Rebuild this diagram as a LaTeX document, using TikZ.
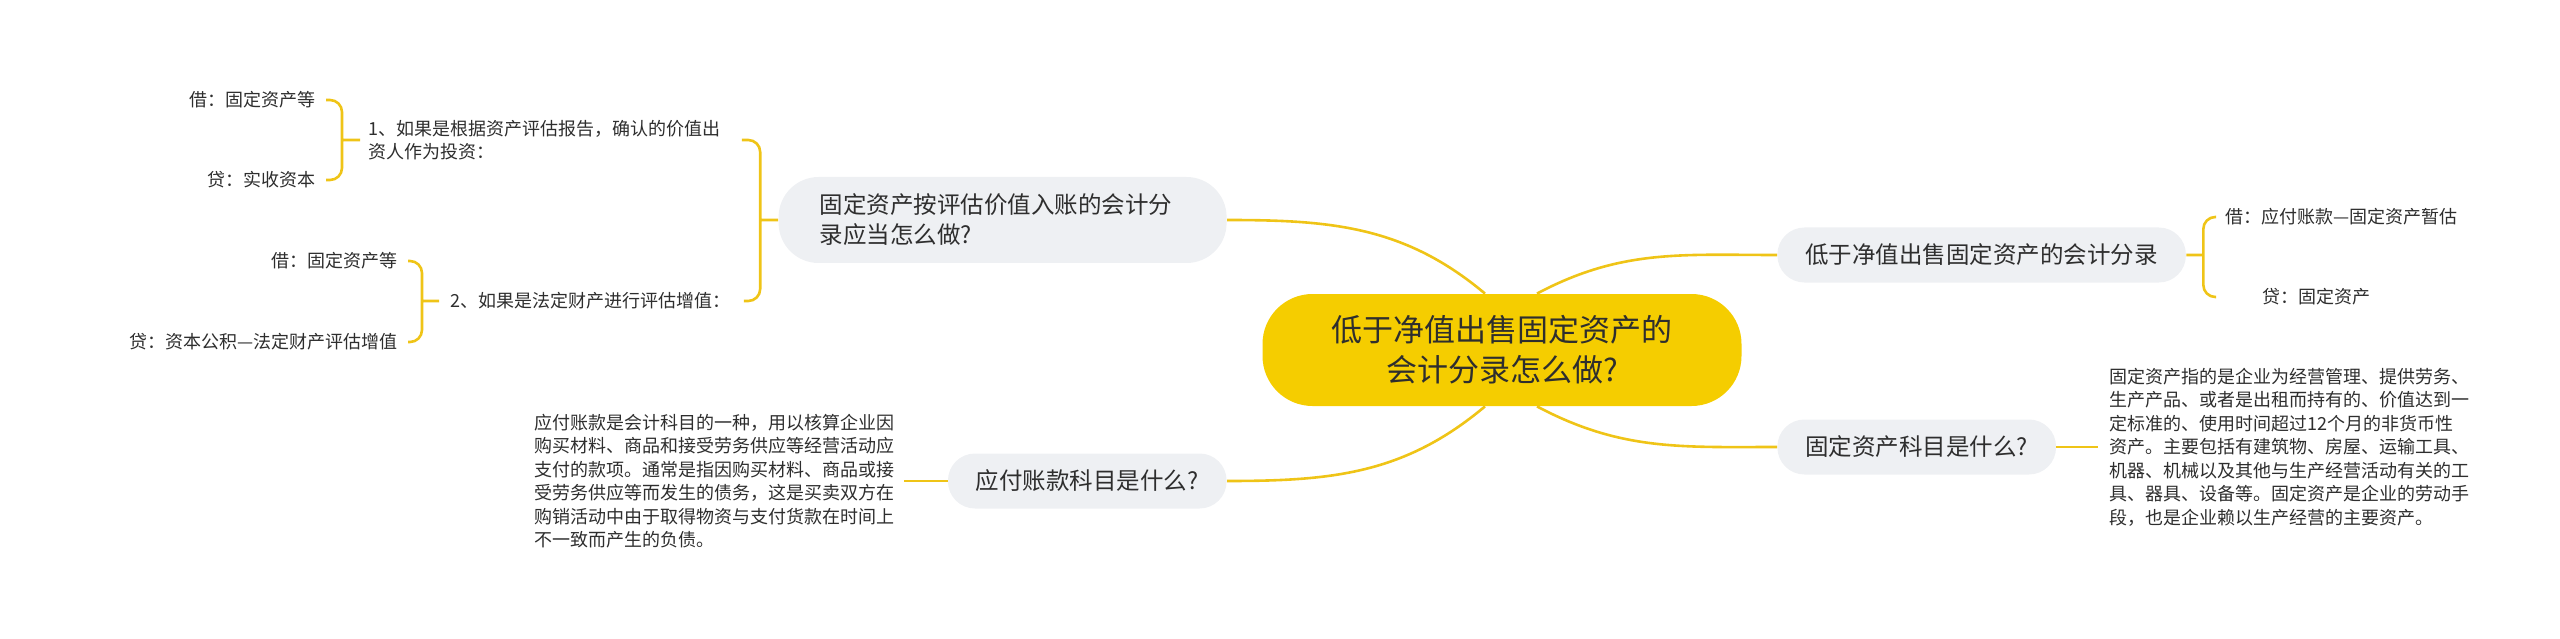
\documentclass[tikz,border=0pt]{standalone}
\usepackage{fontspec}
\usepackage{tikz}
\usetikzlibrary{positioning}
\newfontfamily\cjk{Noto Sans CJK SC}
\definecolor{rootfill}{HTML}{F5CD00}
\definecolor{topicfill}{HTML}{EEF0F3}
\definecolor{linkcolor}{HTML}{EFC417}
\definecolor{inkcolor}{HTML}{2E2E2E}

\begin{document}
\begin{tikzpicture}[x=1pt,y=-1pt,thick,
    root node/.style={rectangle,rounded corners=50pt,fill=rootfill,text=inkcolor,align=center,
      minimum width=479pt,minimum height=112pt,font=\cjk\fontsize{31}{40}\selectfont},
    topic node/.style={rectangle,rounded corners=27pt,fill=topicfill,text=inkcolor,inner xsep=28pt,
      minimum height=55pt,font=\cjk\fontsize{23.5}{30}\selectfont},
    leaf node/.style={inner xsep=10pt,inner ysep=2pt,text=inkcolor,align=left,
      font=\cjk\fontsize{18}{23.5}\selectfont},
    link/.style={draw=linkcolor,line width=2.6pt},
    brace line/.style={draw=linkcolor,line width=2.6pt,rounded corners=12pt}]
  \useasboundingbox (0,0) rectangle (2560,639);

  \node[root node] (c) at (1502,350) {低于净值出售固定资产的\\会计分录怎么做?};
  \node[topic node,rounded corners=40pt,align=left,text width=366pt,inner xsep=41pt,minimum height=86pt,
    anchor=east] (tl) at (1227,220) {固定资产按评估价值入账的会计分\\录应当怎么做?};
  \node[topic node,anchor=west] (r1) at (1777,255) {低于净值出售固定资产的会计分录};
  \node[topic node,anchor=west] (r2) at (1777,447) {固定资产科目是什么?};
  \node[topic node,anchor=east] (l2) at (1227,481) {应付账款科目是什么?};

  % left side
  \node[leaf node,anchor=west,inner xsep=8pt,text width=365pt] (s1) at (360,140)
    {1、如果是根据资产评估报告，确认的价值出\\资人作为投资：};
  \node[leaf node,anchor=west,inner xsep=11pt,text width=282pt] (s2) at (439,301)
    {2、如果是法定财产进行评估增值：};
  \node[leaf node,anchor=east] (k1) at (326,100) {借：固定资产等};
  \node[leaf node,anchor=east] (k2) at (326,180) {贷：实收资本};
  \node[leaf node,anchor=east] (k3) at (408,261) {借：固定资产等};
  \node[leaf node,anchor=east] (k4) at (408,342) {贷：资本公积—法定财产评估增值};
  \node[leaf node,anchor=east,inner xsep=9pt] (p1) at (904,481)
    {应付账款是会计科目的一种，用以核算企业因\\
     购买材料、商品和接受劳务供应等经营活动应\\
     支付的款项。通常是指因购买材料、商品或接\\
     受劳务供应等而发生的债务，这是买卖双方在\\
     购销活动中由于取得物资与支付货款在时间上\\
     不一致而产生的负债。};

  % right side
  \node[leaf node,anchor=west,inner xsep=9pt] (k5) at (2216,217) {借：应付账款—固定资产暂估};
  \node[leaf node,anchor=west,inner xsep=9pt] (k6) at (2253,297) {贷：固定资产};
  \node[leaf node,anchor=west,inner xsep=11pt] (p2) at (2098,447)
    {固定资产指的是企业为经营管理、提供劳务、\\
     生产产品、或者是出租而持有的、价值达到一\\
     定标准的、使用时间超过12个月的非货币性\\
     资产。主要包括有建筑物、房屋、运输工具、\\
     机器、机械以及其他与生产经营活动有关的工\\
     具、器具、设备等。固定资产是企业的劳动手\\
     段，也是企业赖以生产经营的主要资产。};

  \path[link]
  ([xshift=-17pt]c.north) edge [out=140,in=0] (tl.east)
  ([xshift=35pt]c.north) edge [out=28,in=180] (r1.west)
  ([xshift=-17pt]c.south) edge [out=-140,in=0] (l2.east)
  ([xshift=35pt]c.south) edge [out=-28,in=180] (r2.west);

  \draw[brace line] (k1.east) -| ([xshift=-18pt]s1.west) |- (k2.east)
    ([xshift=-18pt]s1.west) -- (s1.west);
  \draw[brace line] (k3.east) -| ([xshift=-17pt]s2.west) |- (k4.east)
    ([xshift=-17pt]s2.west) -- (s2.west);
  \draw[brace line] (s1.east) -| ([xshift=-18pt]tl.west) |- (s2.east)
    ([xshift=-18pt]tl.west) -- (tl.west);
  \draw[brace line] (k5.west) -| ([xshift=17pt]r1.east) |- (k6.west -| k5.west)
    ([xshift=17pt]r1.east) -- (r1.east);
  \draw[link] (r2.east) -- (p2.west);
  \draw[link] (l2.west) -- (p1.east);
\end{tikzpicture}
\end{document}
